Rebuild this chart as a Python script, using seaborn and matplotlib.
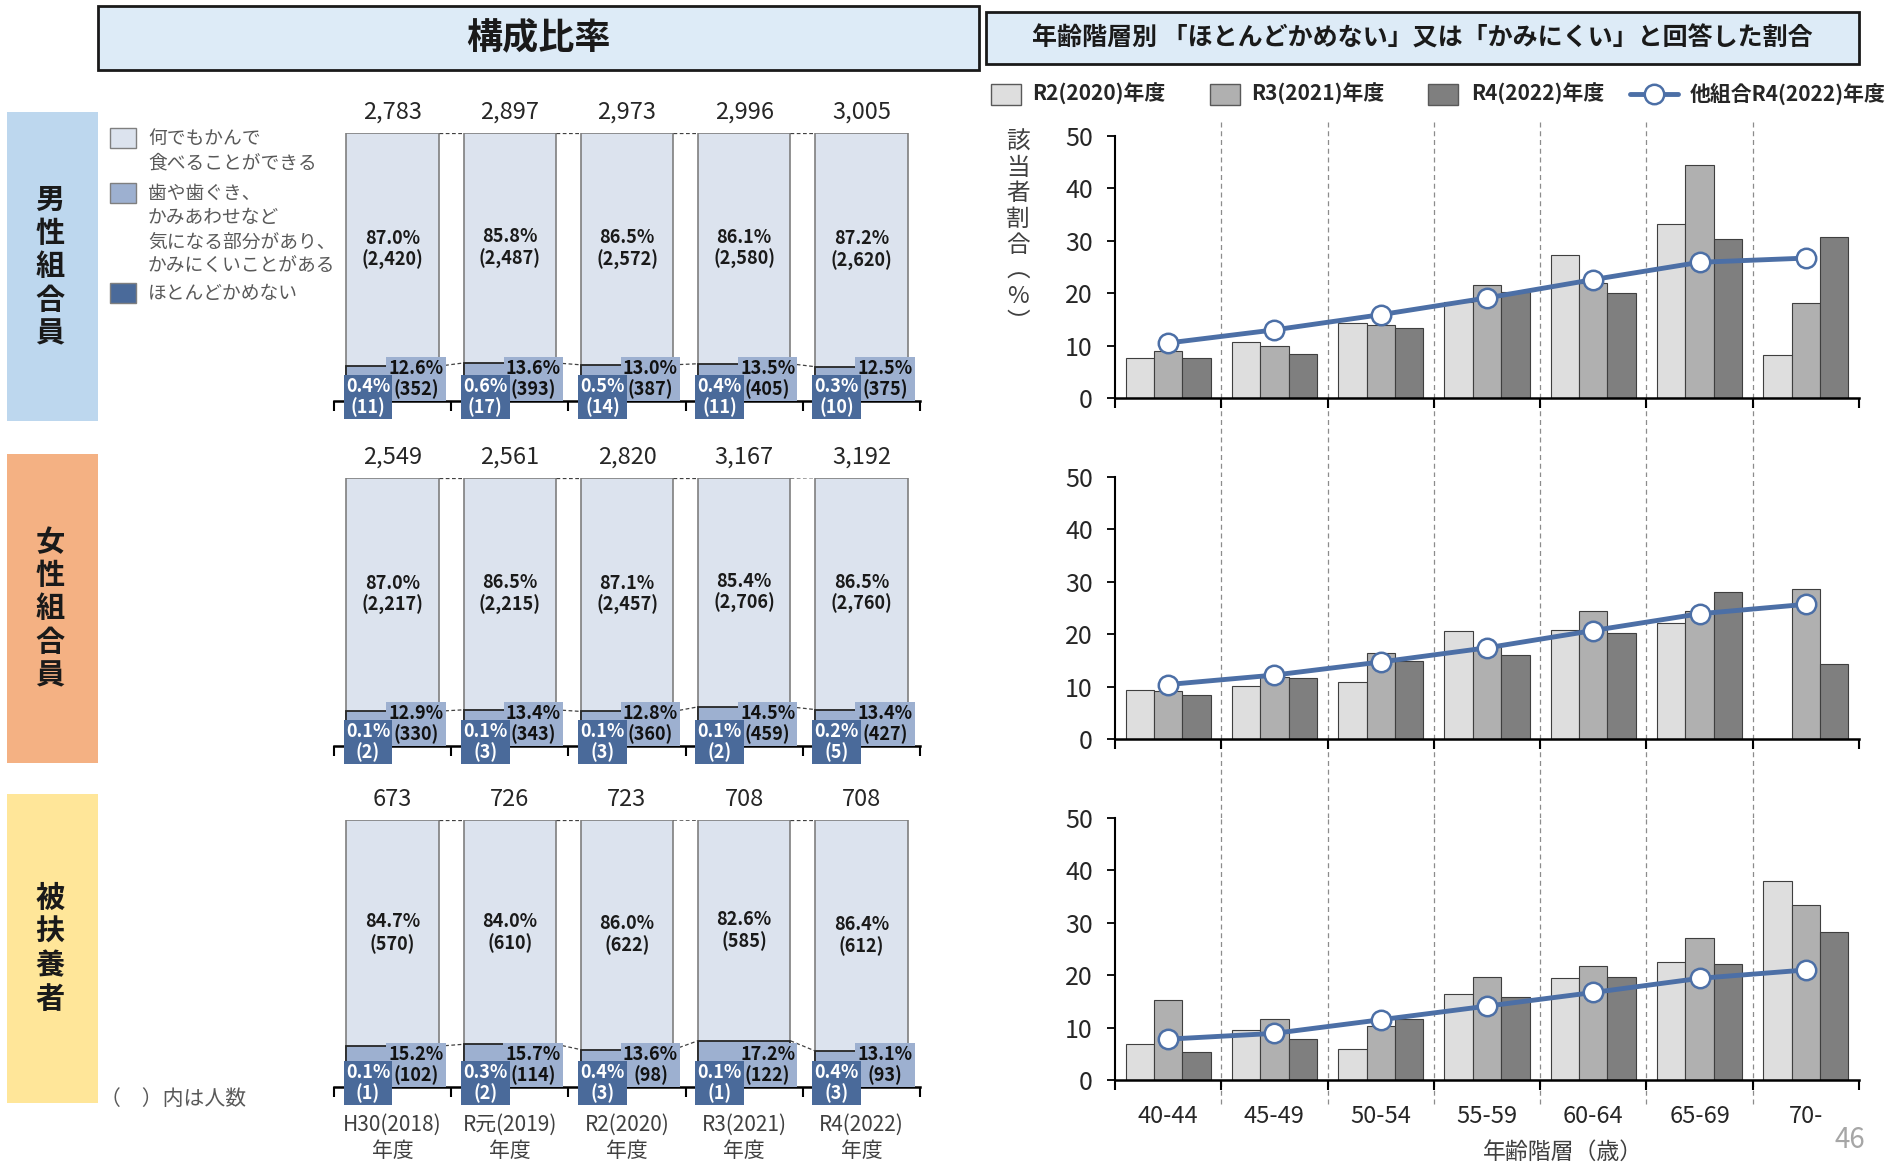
import numpy as np
import pandas as pd
import matplotlib.pyplot as plt
import matplotlib.transforms as mtransforms
from matplotlib.patches import Rectangle
from matplotlib.lines import Line2D
import seaborn as sns

sns.set_theme(style='white')
plt.rcParams['font.family'] = ['Noto Sans CJK JP', 'DejaVu Sans']

# ---------------- data: composition (left) ----------------
years = ['H30(2018)\n年度', 'R元(2019)\n年度', 'R2(2020)\n年度', 'R3(2021)\n年度', 'R4(2022)\n年度']
groups = ['男性組合員', '女性組合員', '被扶養者']
legend_left = ['何でもかんで\n食べることができる',
               '歯や歯ぐき、\nかみあわせなど\n気になる部分があり、\nかみにくいことがある',
               'ほとんどかめない']

male_total = [2783, 2897, 2973, 2996, 3005]
male_ok_pct = [87.0, 85.8, 86.5, 86.1, 87.2]
male_ok_n = [2420, 2487, 2572, 2580, 2620]
male_hard_pct = [12.6, 13.6, 13.0, 13.5, 12.5]
male_hard_n = [352, 393, 387, 405, 375]
male_cant_pct = [0.4, 0.6, 0.5, 0.4, 0.3]
male_cant_n = [11, 17, 14, 11, 10]

female_total = [2549, 2561, 2820, 3167, 3192]
female_ok_pct = [87.0, 86.5, 87.1, 85.4, 86.5]
female_ok_n = [2217, 2215, 2457, 2706, 2760]
female_hard_pct = [12.9, 13.4, 12.8, 14.5, 13.4]
female_hard_n = [330, 343, 360, 459, 427]
female_cant_pct = [0.1, 0.1, 0.1, 0.1, 0.2]
female_cant_n = [2, 3, 3, 2, 5]

dep_total = [673, 726, 723, 708, 708]
dep_ok_pct = [84.7, 84.0, 86.0, 82.6, 86.4]
dep_ok_n = [570, 610, 622, 585, 612]
dep_hard_pct = [15.2, 15.7, 13.6, 17.2, 13.1]
dep_hard_n = [102, 114, 98, 122, 93]
dep_cant_pct = [0.1, 0.3, 0.4, 0.1, 0.4]
dep_cant_n = [1, 2, 3, 1, 3]

# ---------------- data: by age (right) ----------------
ages = ['40-44', '45-49', '50-54', '55-59', '60-64', '65-69', '70-']
fiscal = ['R2(2020)年度', 'R3(2021)年度', 'R4(2022)年度']
other_label = '他組合R4(2022)年度'

male_r2 = [7.6, 10.7, 14.4, 18.4, 27.3, 33.3, 8.3]
male_r3 = [9.0, 9.9, 14.0, 21.6, 22.0, 44.4, 18.2]
male_r4 = [7.6, 8.4, 13.4, 20.3, 20.1, 30.3, 30.7]
male_other = [10.5, 13.0, 15.9, 19.1, 22.6, 25.9, 26.7]

female_r2 = [9.3, 10.2, 10.8, 20.6, 20.8, 22.2, np.nan]
female_r3 = [9.2, 11.8, 16.5, 17.5, 24.5, 24.4, 28.6]
female_r4 = [8.4, 11.7, 14.9, 16.1, 20.3, 28.0, 14.3]
female_other = [10.4, 12.2, 14.7, 17.4, 20.7, 23.9, 25.7]

dep_r2 = [6.8, 9.6, 6.0, 16.4, 19.4, 22.5, 38.0]
dep_r3 = [15.3, 11.7, 10.4, 19.7, 21.8, 27.1, 33.4]
dep_r4 = [5.4, 7.8, 11.6, 15.8, 19.6, 22.2, 28.2]
dep_other = [7.8, 8.9, 11.5, 14.1, 16.7, 19.4, 21.0]

# ---------------- styles ----------------
C_OK = '#DCE3EE'
C_HARD = '#9DB0D0'
C_CANT = '#4A6A9A'
BAR_COLORS = ['#DEDEDE', '#B0B0B0', '#7F7F7F']
LINE_COLOR = '#4C6FA6'
GROUP_COLORS = ['#BDD7EE', '#F4B183', '#FFE699']

W, H = 1890, 1166
fig = plt.figure(figsize=(W / 100, H / 100), dpi=100)


def fx(px):
    return px / W


def fy(py):
    return 1 - py / H


def add_axes_px(x0, x1, ytop, ybot):
    return fig.add_axes([fx(x0), fy(ybot), fx(x1) - fx(x0), (ybot - ytop) / H])


def draw_composition(ax, total, ok_pct, ok_n, hard_pct, hard_n, cant_pct, cant_n, last):
    full = [a + b + c for a, b, c in zip(ok_pct, hard_pct, cant_pct)]
    lower = [b + c for b, c in zip(hard_pct, cant_pct)]
    bw = 0.79
    sns.barplot(x=years, y=full, color=C_OK, width=bw, edgecolor='#7F7F7F',
                linewidth=1.2, saturation=1, ax=ax)
    sns.barplot(x=years, y=lower, color=C_HARD, width=bw, edgecolor='#262626',
                linewidth=1.3, saturation=1, ax=ax)
    sns.barplot(x=years, y=cant_pct, color=C_CANT, width=bw, linewidth=0,
                saturation=1, ax=ax)
    for i in range(5):
        ax.annotate(f'{total[i]:,}', (i, full[i]), xytext=(0, 21), textcoords='offset pixels',
                    ha='center', va='center', fontsize=17, color='#262626')
        ax.text(i, lower[i] + ok_pct[i] / 2, f'{ok_pct[i]:.1f}%\n({ok_n[i]:,})',
                ha='center', va='center', fontsize=13, fontweight='bold',
                color='#1a1a1a', linespacing=1.15)
        ax.annotate(f'{hard_pct[i]:.1f}%\n({hard_n[i]})', (i + 0.2, 0), xytext=(0, 22),
                    textcoords='offset pixels', ha='center', va='center', fontsize=13,
                    fontweight='bold', color='#111111', linespacing=1.1, zorder=5,
                    bbox=dict(boxstyle='square,pad=0.12', fc=C_HARD, ec='none'),
                    annotation_clip=False)
        ax.annotate(f'{cant_pct[i]:.1f}%\n({cant_n[i]})', (i - 0.21, 0), xytext=(0, 4),
                    textcoords='offset pixels', ha='center', va='center', fontsize=13,
                    fontweight='bold', color='white', linespacing=1.1, zorder=6,
                    bbox=dict(boxstyle='square,pad=0.12', fc=C_CANT, ec='none'),
                    annotation_clip=False)
    for i in range(4):
        for y in (full, lower):
            ax.plot([i + bw / 2, i + 1 - bw / 2], [y[i], y[i + 1]], color='#404040',
                    lw=0.9, ls=(0, (3, 2)), zorder=1)
    ax.set_xlim(-0.5, 4.5)
    ax.set_ylim(0, 100)
    for s in ('left', 'top', 'right'):
        ax.spines[s].set_visible(False)
    ax.spines['bottom'].set_color('black')
    ax.spines['bottom'].set_linewidth(1.8)
    ax.set_yticks([])
    ax.set_xticks(range(5))
    ax.set_xticks(np.arange(-0.5, 5, 1), minor=True)
    ax.tick_params(axis='x', which='major', length=0, pad=19, labelsize=15,
                   labelcolor='#404040')
    ax.tick_params(axis='x', which='minor', length=7, width=1.5, color='black',
                   direction='out', bottom=True)
    if last:
        ax.set_xticklabels(years)
        for t in ax.get_xticklabels():
            t.set_linespacing(1.3)
    else:
        ax.set_xticklabels([])
    ax.set_xlabel('')
    ax.set_ylabel('')


def draw_age(ax, r2, r3, r4, other, gap_below, gap_above, last):
    df = pd.DataFrame({
        'age': ages * 3,
        'year': [fiscal[0]] * 7 + [fiscal[1]] * 7 + [fiscal[2]] * 7,
        'rate': r2 + r3 + r4,
    })
    sns.barplot(data=df, x='age', y='rate', hue='year', hue_order=fiscal,
                palette=BAR_COLORS, edgecolor='#3F3F3F', linewidth=0.8,
                saturation=1, errorbar=None, legend=False, ax=ax)
    sns.lineplot(x=np.arange(7), y=other, color=LINE_COLOR, lw=3.5, marker='o',
                 markersize=14, markerfacecolor='white', markeredgecolor=LINE_COLOR,
                 markeredgewidth=1.8, ax=ax, zorder=4)
    trans = mtransforms.blended_transform_factory(ax.transData, ax.transAxes)
    for x in np.arange(0.5, 6, 1):
        ax.plot([x, x], [-gap_below, 1 + gap_above], transform=trans, clip_on=False,
                color='#8C8C8C', lw=0.9, ls=(0, (4, 3)), zorder=0)
    ax.set_xlim(-0.5, 6.5)
    ax.set_ylim(0, 50)
    ax.set_yticks(range(0, 51, 10))
    for s in ('top', 'right'):
        ax.spines[s].set_visible(False)
    for s in ('left', 'bottom'):
        ax.spines[s].set_color('black')
    ax.spines['left'].set_linewidth(1.5)
    ax.spines['bottom'].set_linewidth(1.8)
    ax.tick_params(axis='y', length=6, width=1.3, color='black', direction='out',
                   left=True, labelsize=18, labelcolor='#262626', pad=10)
    ax.set_xticks(range(7))
    ax.set_xticks(np.arange(-0.5, 7, 1), minor=True)
    ax.tick_params(axis='x', which='major', length=0, pad=18, labelsize=17,
                   labelcolor='#262626')
    ax.tick_params(axis='x', which='minor', length=7, width=1.5, color='black',
                   direction='out', bottom=True)
    if last:
        ax.set_xticklabels(ages)
    else:
        ax.set_xticklabels([])
    ax.set_xlabel('')
    ax.set_ylabel('')


# ---------------- headers ----------------
fig.add_artist(Rectangle((fx(98), fy(70)), fx(979) - fx(98), (70 - 6) / H,
                         transform=fig.transFigure, fc='#DDEBF7', ec='#1a1a1a', lw=2))
fig.text(fx(538), fy(38), '構成比率', ha='center', va='center', fontsize=26,
         fontweight='bold', color='#1a1a1a')
fig.add_artist(Rectangle((fx(986), fy(64)), fx(1859) - fx(986), (64 - 12) / H,
                         transform=fig.transFigure, fc='#DDEBF7', ec='#1a1a1a', lw=2))
fig.text(fx(1422), fy(38), '年齢階層別 「ほとんどかめない」又は「かみにくい」と回答した割合',
         ha='center', va='center', fontsize=18, fontweight='bold', color='#1a1a1a')

# group label boxes
group_boxes = [(112, 421), (454, 763), (794, 1103)]
for (top, bot), name, col in zip(group_boxes, groups, GROUP_COLORS):
    fig.add_artist(Rectangle((fx(7), fy(bot)), fx(98) - fx(7), (bot - top) / H,
                             transform=fig.transFigure, fc=col, ec='none'))
    fig.text(fx(50), fy((top + bot) / 2), '\n'.join(name), ha='center', va='center',
             fontsize=21, fontweight='bold', color='#1a1a1a', linespacing=1.14)

# left legend
for (ytop, ytext), label, col in zip([(128, 128), (183, 183), (283, 283)], legend_left,
                                     [C_OK, C_HARD, C_CANT]):
    fig.add_artist(Rectangle((fx(110), fy(ytop + 20)), fx(136) - fx(110), 20 / H,
                             transform=fig.transFigure, fc=col, ec='#7F7F7F', lw=1))
    fig.text(fx(148), fy(ytext), label, ha='left', va='top', fontsize=13.5,
             color='#595959', linespacing=1.2)

# right legend
for xs, xt, label, col in zip([991, 1210, 1428], [1032, 1251, 1471], fiscal, BAR_COLORS):
    fig.add_artist(Rectangle((fx(xs), fy(105)), fx(xs + 30) - fx(xs), 21 / H,
                             transform=fig.transFigure, fc=col, ec='#595959', lw=1))
    fig.text(fx(xt), fy(94), label, ha='left', va='center', fontsize=15,
             fontweight='bold', color='#262626')
fig.add_artist(Line2D([fx(1630), fx(1678)], [fy(94), fy(94)], transform=fig.transFigure,
                      color=LINE_COLOR, lw=3.5))
fig.add_artist(Line2D([fx(1654)], [fy(94)], transform=fig.transFigure, marker='o',
                      markersize=14, markerfacecolor='white', markeredgecolor=LINE_COLOR,
                      markeredgewidth=1.8))
fig.text(fx(1690), fy(94), other_label, ha='left', va='center', fontsize=15,
         fontweight='bold', color='#262626')

# ---------------- left panels ----------------
left_rows = [(133, 401), (478, 746), (820, 1087)]
comp_data = [
    (male_total, male_ok_pct, male_ok_n, male_hard_pct, male_hard_n, male_cant_pct, male_cant_n),
    (female_total, female_ok_pct, female_ok_n, female_hard_pct, female_hard_n,
     female_cant_pct, female_cant_n),
    (dep_total, dep_ok_pct, dep_ok_n, dep_hard_pct, dep_hard_n, dep_cant_pct, dep_cant_n),
]
for k, ((top, bot), d) in enumerate(zip(left_rows, comp_data)):
    ax = add_axes_px(334, 920, top, bot)
    draw_composition(ax, *d, last=(k == 2))

# ---------------- right panels ----------------
right_rows = [(136, 398), (477, 739), (818, 1080)]
age_data = [
    (male_r2, male_r3, male_r4, male_other),
    (female_r2, female_r3, female_r4, female_other),
    (dep_r2, dep_r3, dep_r4, dep_other),
]
gaps = [(0.30, 0.06), (0.30, 0.0), (0.09, 0.0)]
for k, ((top, bot), d, g) in enumerate(zip(right_rows, age_data, gaps)):
    ax = add_axes_px(1115, 1859, top, bot)
    draw_age(ax, *d, gap_below=g[0], gap_above=g[1], last=(k == 2))

fig.text(fx(1018), fy(131), '該\n当\n者\n割\n合\n︵\n%\n︶', ha='center', va='top',
         fontsize=17, color='#404040', linespacing=1.15)
fig.text(fx(1563), fy(1152), '年齢階層（歳）', ha='center', va='center', fontsize=16.5,
         color='#404040')
fig.text(fx(100), fy(1099), '（　）内は人数', ha='left', va='center', fontsize=15,
         color='#595959')
fig.text(fx(1850), fy(1140), '46', ha='center', va='center', fontsize=20, color='#A6A6A6')

fig.savefig('out.png', dpi=100)
